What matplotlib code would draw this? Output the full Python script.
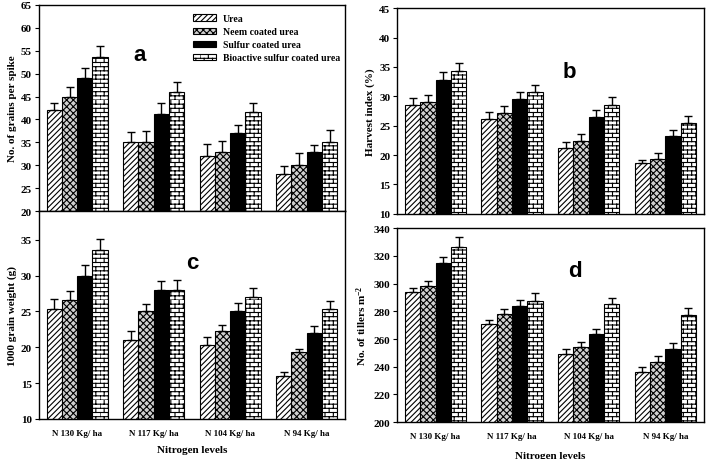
import numpy as np
import matplotlib
matplotlib.use("Agg")
import matplotlib.pyplot as plt
from matplotlib import hatch as mhatch
from matplotlib.path import Path

# brick hatch for the bioactive series
class BrickHatch(mhatch.HatchPatternBase):
    def __init__(self, hatch, density):
        self.rows = int(hatch.count('b') * density)
        self.cols = max(self.rows // 2, 1)
        self.num_vertices = self.rows * (2 + 2 * self.cols)

    def set_vertices_and_codes(self, vertices, codes):
        h = 1.0 / self.rows
        k = 0
        for i in range(self.rows):
            y = i * h
            vertices[k] = (0.0, y); codes[k] = Path.MOVETO
            vertices[k + 1] = (1.0, y); codes[k + 1] = Path.LINETO
            k += 2
            off = 0.5 * (i % 2) / self.cols
            for j in range(self.cols):
                x = j / self.cols + off
                vertices[k] = (x, y); codes[k] = Path.MOVETO
                vertices[k + 1] = (x, y + h); codes[k + 1] = Path.LINETO
                k += 2

mhatch._hatch_types.append(BrickHatch)

groups = ["N 130 Kg/ ha", "N 117 Kg/ ha", "N 104 Kg/ ha", "N 94 Kg/ ha"]
series = ["Urea", "Neem coated urea", "Sulfur coated urea", "Bioactive sulfur coated urea"]

# a: grains per spike
grains = [[42, 35, 32, 28], [45, 35, 33, 30], [49, 41.3, 37, 33], [53.7, 46, 41.7, 35]]
grains_err = [[1.5, 2.3, 2.6, 1.8], [2.0, 2.5, 2.4, 2.6], [2.3, 2.4, 1.8, 1.5], [2.3, 2.1, 1.8, 2.8]]
# b: harvest index
hi = [[28.5, 26.2, 21.2, 18.6], [29.0, 27.1, 22.4, 19.4], [32.8, 29.5, 26.4, 23.2], [34.3, 30.8, 28.6, 25.5]]
hi_err = [[1.2, 1.2, 1.1, 0.6], [1.3, 1.3, 1.2, 1.0], [1.3, 1.3, 1.2, 1.1], [1.3, 1.2, 1.2, 1.1]]
# c: 1000 grain weight
gw = [[25.3, 21, 20.3, 16], [26.6, 25, 22.3, 19.3], [30, 28, 25, 22], [33.6, 28, 27, 25.3]]
gw_err = [[1.4, 1.3, 1.2, 0.5], [1.3, 1.1, 0.8, 0.5], [1.5, 1.3, 1.2, 0.9], [1.5, 1.4, 1.2, 1.1]]
# d: tillers
till = [[294, 271, 249, 236], [298, 278, 254, 243.5], [314.5, 284, 263.5, 252.5], [326.5, 287.5, 285.5, 277.5]]
till_err = [[3, 3, 3.5, 4], [4, 4, 3.5, 4], [5, 4, 3.5, 4.5], [7, 6, 4, 5]]

faces = ["white", "#d0d0d0", "black", "white"]
hatches = ["//////", "xxxxx", "", "bbbb"]

serif = "Liberation Serif"
plt.rcParams['hatch.linewidth'] = 0.8
plt.rcParams['mathtext.fontset'] = 'custom'
plt.rcParams['mathtext.rm'] = serif + ':bold'
plt.rcParams['mathtext.it'] = serif + ':bold'
plt.rcParams['mathtext.bf'] = serif + ':bold'

fig = plt.figure(figsize=(7.08, 4.6), dpi=100)
ax_a = fig.add_axes([0.055, 0.539, 0.432, 0.448])
ax_c = fig.add_axes([0.055, 0.087, 0.432, 0.452])
ax_b = fig.add_axes([0.561, 0.533, 0.433, 0.447])
ax_d = fig.add_axes([0.561, 0.080, 0.433, 0.422])

panels = [
    (ax_a, grains, grains_err, (20, 65), np.arange(20, 66, 5), "No. of grains per spike", "a", (0.33, 0.76)),
    (ax_b, hi, hi_err, (10, 45), np.arange(10, 46, 5), "Harvest index (%)", "b", (0.56, 0.69)),
    (ax_c, gw, gw_err, (10, 39), np.arange(10, 36, 5), "1000 grain weight (g)", "c", (0.50, 0.755)),
    (ax_d, till, till_err, (200, 340), np.arange(200, 341, 20), "No. of tillers m$^{-2}$", "d", (0.58, 0.78)),
]

x = np.arange(len(groups))
w = 0.2
for ax, vals, errs, ylim, yt, ylab, letter, lpos in panels:
    for i, s in enumerate(series):
        pos = x + (i - 1.5) * w
        ax.bar(pos, vals[i], w, bottom=0, color=faces[i], edgecolor="black",
               hatch=hatches[i], linewidth=0.8, label=s, zorder=2)
        ax.errorbar(pos, vals[i], yerr=[np.zeros(len(groups)), errs[i]], fmt="none",
                    ecolor="black", elinewidth=1, capsize=3, capthick=1, zorder=3)
    ax.set_xlim(-0.5, 3.5)
    ax.set_ylim(*ylim)
    ax.set_yticks(yt)
    ax.set_ylabel(ylab, fontfamily=serif, fontweight="bold", fontsize=8, labelpad=3)
    for lab in ax.get_yticklabels():
        lab.set_fontfamily(serif); lab.set_fontweight("bold"); lab.set_fontsize(8)
    ax.tick_params(axis="y", direction="out", length=3, width=0.8, pad=2)
    ax.tick_params(axis="x", length=0)
    for sp in ax.spines.values():
        sp.set_linewidth(1.0)
    ax.text(lpos[0], lpos[1], letter, transform=ax.transAxes, ha="center", va="center",
            fontfamily="Liberation Sans", fontweight="bold", fontsize=16)

for ax in (ax_a, ax_b):
    ax.set_xticks([])
for ax in (ax_c, ax_d):
    ax.set_xticks(x)
    ax.set_xticklabels(groups, fontfamily=serif, fontweight="bold", fontsize=6.5)
    ax.set_xlabel("Nitrogen levels", fontfamily=serif, fontweight="bold", fontsize=8, labelpad=6)
ax_c.tick_params(axis="x", pad=7)
ax_d.tick_params(axis="x", pad=7)
ax_d.xaxis.labelpad = 8

ax_a.legend(loc="upper left", bbox_to_anchor=(0.487, 0.98), frameon=False,
            prop={"family": serif, "weight": "bold", "size": 7},
            handlelength=2.4, handleheight=0.6, labelspacing=0.42, borderpad=0,
            handletextpad=0.7)

fig.savefig("out.png", dpi=100)
